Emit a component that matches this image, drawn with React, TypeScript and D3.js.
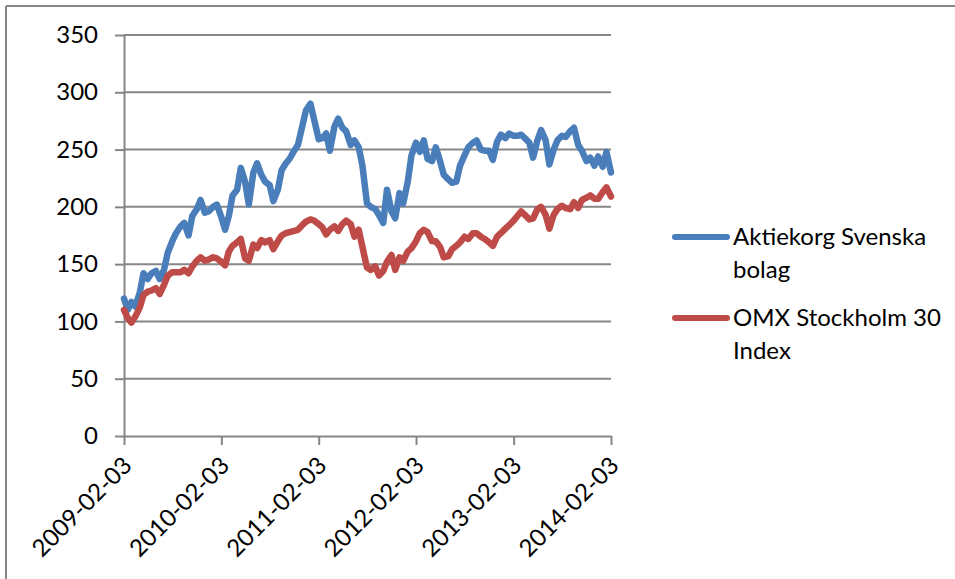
import { useEffect, useRef } from 'react';
import * as d3 from 'd3';

// semi-monthly sample dates
const dates = [
  '2009-02-03', '2009-02-17', '2009-03-03', '2009-03-17', '2009-04-03', '2009-04-17', '2009-05-03', '2009-05-17',
  '2009-06-03', '2009-06-17', '2009-07-03', '2009-07-17', '2009-08-03', '2009-08-17', '2009-09-03', '2009-09-17',
  '2009-10-03', '2009-10-17', '2009-11-03', '2009-11-17', '2009-12-03', '2009-12-17',
  '2010-01-03', '2010-01-17', '2010-02-03', '2010-02-17', '2010-03-03', '2010-03-17', '2010-04-03', '2010-04-17',
  '2010-05-03', '2010-05-17', '2010-06-03', '2010-06-17', '2010-07-03', '2010-07-17', '2010-08-03', '2010-08-17',
  '2010-09-03', '2010-09-17', '2010-10-03', '2010-10-17', '2010-11-03', '2010-11-17', '2010-12-03', '2010-12-17',
  '2011-01-03', '2011-01-17', '2011-02-03', '2011-02-17', '2011-03-03', '2011-03-17', '2011-04-03', '2011-04-17',
  '2011-05-03', '2011-05-17', '2011-06-03', '2011-06-17', '2011-07-03', '2011-07-17', '2011-08-03', '2011-08-17',
  '2011-09-03', '2011-09-17', '2011-10-03', '2011-10-17', '2011-11-03', '2011-11-17', '2011-12-03', '2011-12-17',
  '2012-01-03', '2012-01-17', '2012-02-03', '2012-02-17', '2012-03-03', '2012-03-17', '2012-04-03', '2012-04-17',
  '2012-05-03', '2012-05-17', '2012-06-03', '2012-06-17', '2012-07-03', '2012-07-17', '2012-08-03', '2012-08-17',
  '2012-09-03', '2012-09-17', '2012-10-03', '2012-10-17', '2012-11-03', '2012-11-17', '2012-12-03', '2012-12-17',
  '2013-01-03', '2013-01-17', '2013-02-03', '2013-02-17', '2013-03-03', '2013-03-17', '2013-04-03', '2013-04-17',
  '2013-05-03', '2013-05-17', '2013-06-03', '2013-06-17', '2013-07-03', '2013-07-17', '2013-08-03', '2013-08-17',
  '2013-09-03', '2013-09-17', '2013-10-03', '2013-10-17', '2013-11-03', '2013-11-17', '2013-12-03', '2013-12-17',
  '2014-01-03', '2014-01-17', '2014-02-03',
];

const aktiekorg = [
  120, 110, 117, 113, 125, 142, 137, 142, 144, 137,
  145, 160, 170, 177, 183, 186, 175, 192, 198, 206,
  195, 196, 200, 202, 191, 180, 192, 210, 215, 234,
  222, 202, 230, 238, 228, 222, 219, 205, 215, 232,
  238, 242, 249, 254, 270, 284, 290, 276, 259, 260,
  264, 249, 270, 277, 269, 266, 254, 258, 252, 236,
  203, 200, 198, 193, 186, 215, 196, 190, 212, 203,
  222, 245, 256, 248, 258, 242, 240, 252, 240, 228,
  224, 221, 222, 236, 245, 252, 256, 258, 250, 249,
  249, 241, 257, 263, 260, 264, 262, 262, 263, 260,
  256, 243, 258, 267, 258, 237, 250, 258, 262, 261,
  266, 269, 254, 249, 240, 243, 236, 244, 235, 248,
  230,
];

const omxs30 = [
  110, 103, 99, 104, 112, 123, 126, 127, 129, 124,
  132, 140, 143, 143, 143, 145, 142, 148, 153, 156,
  153, 154, 156, 155, 152, 149, 161, 166, 169, 172,
  155, 153, 167, 164, 171, 169, 171, 163, 170, 175,
  177, 178, 179, 180, 184, 187, 189, 188, 185, 182,
  176, 180, 183, 179, 185, 188, 185, 174, 180, 165,
  147, 145, 148, 140, 144, 152, 158, 145, 156, 153,
  161, 164, 170, 177, 180, 178, 170, 170, 165, 156,
  157, 163, 166, 169, 174, 172, 177, 177, 174, 172,
  169, 166, 174, 177, 181, 184, 188, 192, 196, 193,
  189, 190, 198, 200, 193, 181, 193, 198, 201, 199,
  198, 204, 199, 206, 208, 210, 207, 207, 213, 217,
  209,
];

const xTicks = ['2009-02-03', '2010-02-03', '2011-02-03', '2012-02-03', '2013-02-03', '2014-02-03'];
const yTicks = [0, 50, 100, 150, 200, 250, 300, 350];

const seriesNames = [
  ['Aktiekorg Svenska', 'bolag'],
  ['OMX Stockholm 30', 'Index'],
];
const seriesColors = ['#4a7ebb', '#be4b48'];

const WIDTH = 955;
const HEIGHT = 579;
const FONT = 'Lato, "Open Sans", sans-serif';
const GRAY = '#868686';

export default function App() {
  const svgRef = useRef<SVGSVGElement>(null);

  useEffect(() => {
    if (!svgRef.current) return;
    const svg = d3.select(svgRef.current);
    svg.selectAll('*').remove();

    const parse = d3.timeParse('%Y-%m-%d');
    const fmt = d3.timeFormat('%Y-%m-%d');
    const plot = { left: 124, right: 611, top: 35, bottom: 436 };

    const x = d3
      .scaleTime()
      .domain([parse(xTicks[0])!, parse(xTicks[xTicks.length - 1])!])
      .range([plot.left, plot.right]);
    const y = d3.scaleLinear().domain([0, 350]).range([plot.bottom, plot.top]);

    svg.append('rect').attr('width', WIDTH).attr('height', HEIGHT).attr('fill', '#fff');

    // chart border (only top and left visible)
    svg.append('line').attr('x1', 6).attr('x2', WIDTH).attr('y1', 6).attr('y2', 6)
      .attr('stroke', GRAY).attr('stroke-width', 2);
    svg.append('line').attr('x1', 6).attr('x2', 6).attr('y1', 6).attr('y2', HEIGHT)
      .attr('stroke', GRAY).attr('stroke-width', 2);

    // gridlines
    svg.append('g')
      .selectAll('line')
      .data(yTicks.filter((d) => d > 0))
      .join('line')
      .attr('x1', plot.left)
      .attr('x2', plot.right)
      .attr('y1', (d) => y(d))
      .attr('y2', (d) => y(d))
      .attr('stroke', GRAY)
      .attr('stroke-width', 2);

    // Y axis
    const yAxis = svg.append('g')
      .attr('transform', `translate(${plot.left},0)`)
      .call(d3.axisLeft(y).tickValues(yTicks).tickSizeInner(9).tickSizeOuter(0).tickPadding(17));
    yAxis.selectAll('.domain, .tick line').attr('stroke', GRAY).attr('stroke-width', 2);
    yAxis.selectAll('text')
      .attr('fill', '#000')
      .attr('font-family', FONT)
      .attr('font-size', 24);

    // X axis
    const xAxis = svg.append('g')
      .attr('transform', `translate(0,${plot.bottom})`)
      .call(
        d3.axisBottom(x)
          .tickValues(xTicks.map((d) => parse(d)!))
          .tickFormat((d) => fmt(d as Date))
          .tickSizeInner(9)
          .tickSizeOuter(0)
      );
    xAxis.selectAll('.domain, .tick line').attr('stroke', GRAY).attr('stroke-width', 2);
    xAxis.selectAll('text')
      .attr('fill', '#000')
      .attr('font-family', FONT)
      .attr('font-size', 24)
      .attr('text-anchor', 'end')
      .attr('dy', '0.35em')
      .attr('transform', 'translate(3,25) rotate(-45)')
      .attr('y', 0)
      .attr('x', 0);

    // lines
    const seriesData = [aktiekorg, omxs30];
    const line = d3
      .line<number>()
      .x((_, i) => x(parse(dates[i])!))
      .y((d) => y(d))
      .curve(d3.curveLinear);

    svg.append('g')
      .selectAll('path')
      .data(seriesData)
      .join('path')
      .attr('d', (d) => line(d))
      .attr('fill', 'none')
      .attr('stroke', (_, i) => seriesColors[i])
      .attr('stroke-width', 6.5)
      .attr('stroke-linejoin', 'round')
      .attr('stroke-linecap', 'round');

    // legend
    const legendY = [237, 318];
    const legend = svg.append('g')
      .selectAll('g')
      .data(seriesNames)
      .join('g')
      .attr('transform', (_, i) => `translate(0,${legendY[i]})`);
    legend.append('line')
      .attr('x1', 675)
      .attr('x2', 727)
      .attr('stroke', (_, i) => seriesColors[i])
      .attr('stroke-width', 6)
      .attr('stroke-linecap', 'round');
    legend.append('text')
      .attr('font-family', FONT)
      .attr('font-size', 24)
      .attr('fill', '#000')
      .selectAll('tspan')
      .data((d) => d)
      .join('tspan')
      .attr('x', 733)
      .attr('y', (_, j) => 8 + j * 33)
      .text((d) => d);
  }, []);

  return (
    <div style={{ position: 'absolute', left: 0, top: 0 }}>
      <svg ref={svgRef} width={WIDTH} height={HEIGHT} style={{ display: 'block' }} />
    </div>
  );
}
